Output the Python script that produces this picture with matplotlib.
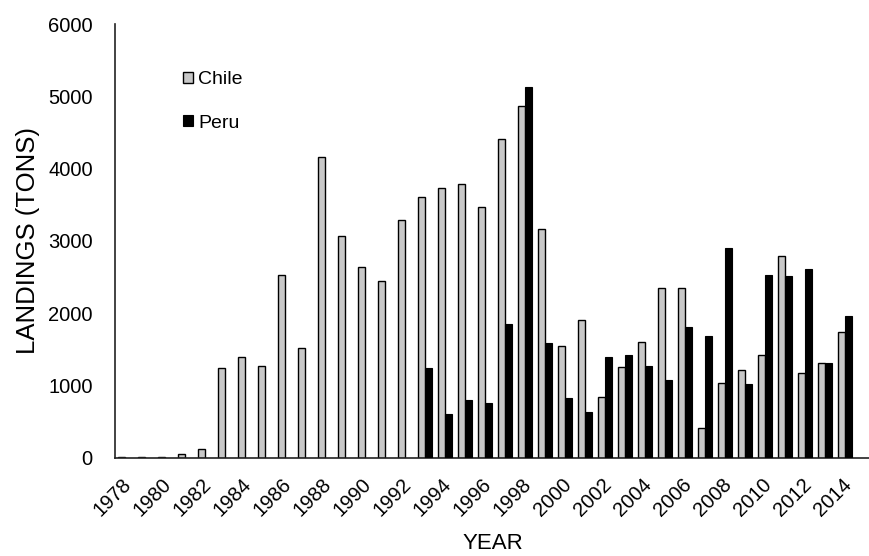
import matplotlib
matplotlib.use("Agg")
import matplotlib.pyplot as plt
import matplotlib.transforms as mtransforms
import numpy as np

plt.rcParams['font.family'] = ['Liberation Sans', 'DejaVu Sans']

years = list(range(1978, 2015))
chile = [20, 15, 15, 50, 120, 1248, 1394, 1265, 2531, 1527, 4158, 3063, 2645, 2444,
         3287, 3604, 3732, 3792, 3470, 4406, 4869, 3168, 1555, 1903, 844, 1252, 1605,
         2356, 2356, 408, 1036, 1220, 1426, 2788, 1179, 1311, 1747]
peru = [0, 0, 0, 0, 0, 0, 0, 0, 0, 0, 0, 0, 0, 0,
        0, 1248, 609, 798, 766, 1853, 5131, 1596, 829, 629, 1394, 1417, 1275,
        1073, 1811, 1692, 2907, 1027, 2531, 2513, 2618, 1311, 1967]
tick_labels = [str(y) if (y - 1978) % 2 == 0 else "" for y in years]

fig = plt.figure(figsize=(8.7, 5.56), dpi=100)
ax = fig.add_axes([0.1322, 0.1763, 0.8678, 0.7805])

x = np.arange(len(years))
w = 0.36
ax.bar(x - 0.17, chile, width=w, color='#c8c8c8', edgecolor='black', linewidth=1.0,
       label='Chile', zorder=2)
peru_arr = np.array(peru, dtype=float)
peru_plot = np.where(peru_arr > 0, peru_arr, np.nan)
ax.bar(x + 0.17, peru_plot, width=w, color='black', edgecolor='black', linewidth=0.8,
       label='Peru', zorder=3)

ax.set_xlim(-0.5, 37.25)
ax.set_ylim(0, 6000)
ax.set_yticks(np.arange(0, 6001, 1000))
ax.set_xticks(x)
ax.set_xticklabels(tick_labels, rotation=45, ha='right', rotation_mode='anchor')
ax.tick_params(axis='both', length=0, labelsize=14.5, colors='black')
ax.tick_params(axis='x', pad=12)
ax.tick_params(axis='y', pad=16)
offset = mtransforms.ScaledTranslation(-3 / 100, 0, fig.dpi_scale_trans)
for lab in ax.get_xticklabels():
    lab.set_transform(lab.get_transform() + offset)

for s in ['top', 'right']:
    ax.spines[s].set_visible(False)
for s in ['left', 'bottom']:
    ax.spines[s].set_linewidth(1.2)
    ax.spines[s].set_color('#222222')

ax.set_xlabel('YEAR', fontsize=16)
ax.xaxis.set_label_coords(0.5, -0.173)
ax.set_ylabel('LANDINGS (TONS)', fontsize=18.5)
ax.yaxis.set_label_coords(-0.1, 0.5)

leg = ax.legend(loc='upper left', bbox_to_anchor=(0.077, 0.913), frameon=False,
                fontsize=14, handlelength=0.5, handleheight=0.5, handletextpad=0.3,
                labelspacing=1.35, borderpad=0)

fig.savefig('out.png', dpi=100)
